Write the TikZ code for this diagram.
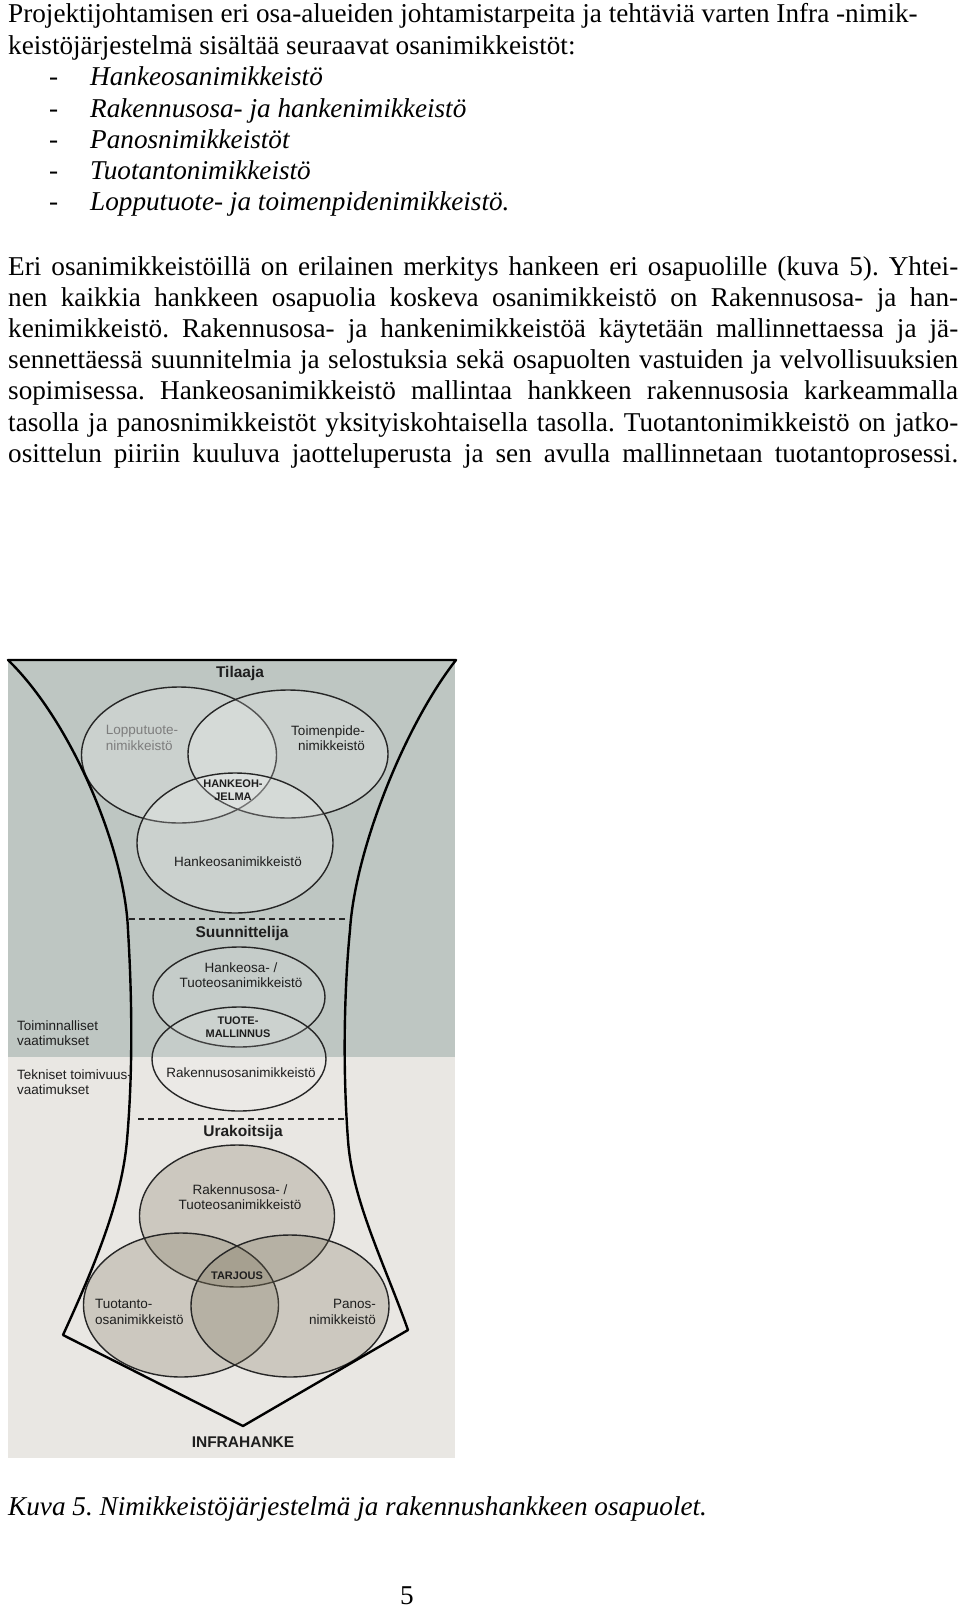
\documentclass[tikz,border=0pt]{standalone}
\usepackage{fontspec}
\setmainfont{Liberation Serif}
\newfontfamily\diagfont{Liberation Sans}
\definecolor{bgdark}{RGB}{190,198,194}
\definecolor{bglight}{RGB}{233,231,227}
\definecolor{brownfill}{RGB}{120,110,85}
\definecolor{labgray}{RGB}{125,125,125}
\definecolor{labdark}{RGB}{30,30,30}
\frenchspacing
\begin{document}
\begin{tikzpicture}[x=1pt,y=-1pt,
  bodytext/.style={anchor=base west, inner sep=0pt, font=\fontsize{27.2}{31}\selectfont},
  itemtext/.style={bodytext, font=\fontsize{27.2}{31}\selectfont\itshape},
  lab/.style={inner sep=0pt, text=labdark, font=\diagfont\fontsize{13.5}{15.5}\selectfont},
  hd/.style={inner sep=0pt, text=labdark, font=\diagfont\bfseries\fontsize{15.5}{18}\selectfont},
  sm/.style={inner sep=0pt, align=center, text=labdark, font=\diagfont\bfseries\fontsize{11}{13}\selectfont},
  topell/.style={draw=black!85, line width=1.4pt, fill=white, fill opacity=0.2},
  midell/.style={draw=black!85, line width=1.4pt, fill=white, fill opacity=0.12},
  botell/.style={draw=black!85, line width=1.4pt, fill=brownfill, fill opacity=0.25},
  funnel/.style={draw=black, line width=2.4pt, line join=round},
  divider/.style={draw=black!85, line width=1.8pt, dash pattern=on 6pt off 4pt}
]
\useasboundingbox (0,0) rectangle (960,1608);
\fill[white] (0,0) rectangle (960,1608);

% ---------- text above ----------
\node[bodytext] (l1) at (8,23) {Projektijohtamisen eri osa-alueiden johtamistarpeita ja tehtäviä varten Infra -nimik-};
\node[bodytext] (l2) at (8,54.5) {keistöjärjestelmä sisältää seuraavat osanimikkeistöt:};
\node[bodytext] (d1) at (49,85.8) {-};
\node[itemtext] (i1) at (90,85.8) {Hankeosanimikkeistö};
\node[bodytext] (d2) at (49,117.1) {-};
\node[itemtext] (i2) at (90,117.1) {Rakennusosa- ja hankenimikkeistö};
\node[bodytext] (d3) at (49,148.4) {-};
\node[itemtext] (i3) at (90,148.4) {Panosnimikkeistöt};
\node[bodytext] (d4) at (49,179.7) {-};
\node[itemtext] (i4) at (90,179.7) {Tuotantonimikkeistö};
\node[bodytext] (d5) at (49,211) {-};
\node[itemtext] (i5) at (90,211) {Lopputuote- ja toimenpidenimikkeistö.};

\node[bodytext] (p1) at (8,275) {\makebox[950pt][s]{Eri osanimikkeistöillä on erilainen merkitys hankeen eri osapuolille (kuva 5). Yhtei-}};
\node[bodytext] (p2) at (8,306.2) {\makebox[950pt][s]{nen kaikkia hankkeen osapuolia koskeva osanimikkeistö on Rakennusosa- ja han-}};
\node[bodytext] (p3) at (8,337.4) {\makebox[950pt][s]{kenimikkeistö. Rakennusosa- ja hankenimikkeistöä käytetään mallinnettaessa ja jä-}};
\node[bodytext] (p4) at (8,368.6) {\makebox[950pt][s]{sennettäessä suunnitelmia ja selostuksia sekä osapuolten vastuiden ja velvollisuuksien}};
\node[bodytext] (p5) at (8,399.8) {\makebox[950pt][s]{sopimisessa. Hankeosanimikkeistö mallintaa hankkeen rakennusosia karkeammalla}};
\node[bodytext] (p6) at (8,431) {\makebox[950pt][s]{tasolla ja panosnimikkeistöt yksityiskohtaisella tasolla. Tuotantonimikkeistö on jatko-}};
\node[bodytext] (p7) at (8,462.2) {\makebox[950pt][s]{osittelun piiriin kuuluva jaotteluperusta ja sen avulla mallinnetaan tuotantoprosessi.}};

% ---------- diagram background ----------
\fill[bgdark] (8,659) rectangle (455,1057);
\fill[bglight] (8,1057) rectangle (455,1458);

% top ellipses (Tilaaja)
\path[topell] (179,755) ellipse [x radius=97.5pt, y radius=68pt];
\path[topell] (288,754) ellipse [x radius=100pt, y radius=64pt];
\path[topell] (235,843) ellipse [x radius=98pt, y radius=70pt];

% middle ellipses (Suunnittelija)
\path[midell] (239,997) ellipse [x radius=86pt, y radius=50pt];
\path[midell] (239,1059) ellipse [x radius=87pt, y radius=52pt];

% bottom ellipses (Urakoitsija)
\path[botell] (237,1216) ellipse [x radius=97.5pt, y radius=71pt];
\path[botell] (181,1305) ellipse [x radius=97.5pt, y radius=72pt];
\path[botell] (290,1306) ellipse [x radius=99pt, y radius=71pt];

% funnel outline
\draw[funnel] (8,660) .. controls (72,722) and (125,850) .. (128,930)
  .. controls (131,980) and (134,1060) .. (127,1140)
  .. controls (122,1200) and (95,1265) .. (63,1335)
  -- (243,1426) -- (408,1330)
  .. controls (385,1265) and (352,1200) .. (348,1140)
  .. controls (342,1060) and (345,980) .. (350,930)
  .. controls (355,850) and (405,725) .. (456,660) -- cycle;

% dashed dividers
\draw[divider] (129,919) -- (348,919);
\draw[divider] (138,1119) -- (346,1119);

% ---------- labels ----------
\node[hd] (tilaaja) at (240,673) {Tilaaja};
\node[lab, text=labgray, align=left] (lopp) at (142,738) {Lopputuote-\\nimikkeistö};
\node[lab, align=right] (toim) at (328,738) {Toimenpide-\\nimikkeistö};
\node[sm] (hankeoh) at (233,790) {HANKEOH-\\JELMA};
\node[lab] (hankeosa) at (238,862) {Hankeosanimikkeistö};

\node[hd] (suunn) at (242,933) {Suunnittelija};
\node[lab, align=center] (htuote) at (241,975) {Hankeosa- /\\Tuoteosanimikkeistö};
\node[sm] (tuotem) at (238,1027) {TUOTE-\\MALLINNUS};
\node[lab] (rakosa) at (241,1073) {Rakennusosanimikkeistö};
\node[lab, align=left, anchor=west] (toimv) at (17,1033) {Toiminnalliset\\vaatimukset};
\node[lab, align=left, anchor=west] (teknv) at (17,1082) {Tekniset toimivuus-\\vaatimukset};

\node[hd] (urak) at (243,1132) {Urakoitsija};
\node[lab, align=center] (rtuote) at (240,1197) {Rakennusosa- /\\Tuoteosanimikkeistö};
\node[sm] (tarjous) at (237,1276) {TARJOUS};
\node[lab, align=left, anchor=west] (tuotanto) at (95,1312) {Tuotanto-\\osanimikkeistö};
\node[lab, align=right, anchor=east] (panos) at (376,1312) {Panos-\\nimikkeistö};
\node[hd] (infra) at (243,1442) {INFRAHANKE};

% ---------- caption and page number ----------
\node[itemtext] (cap) at (8,1515) {Kuva 5. Nimikkeistöjärjestelmä ja rakennushankkeen osapuolet.};
\node[bodytext, anchor=base] (pnum) at (407,1604) {5};
\end{tikzpicture}
\end{document}
